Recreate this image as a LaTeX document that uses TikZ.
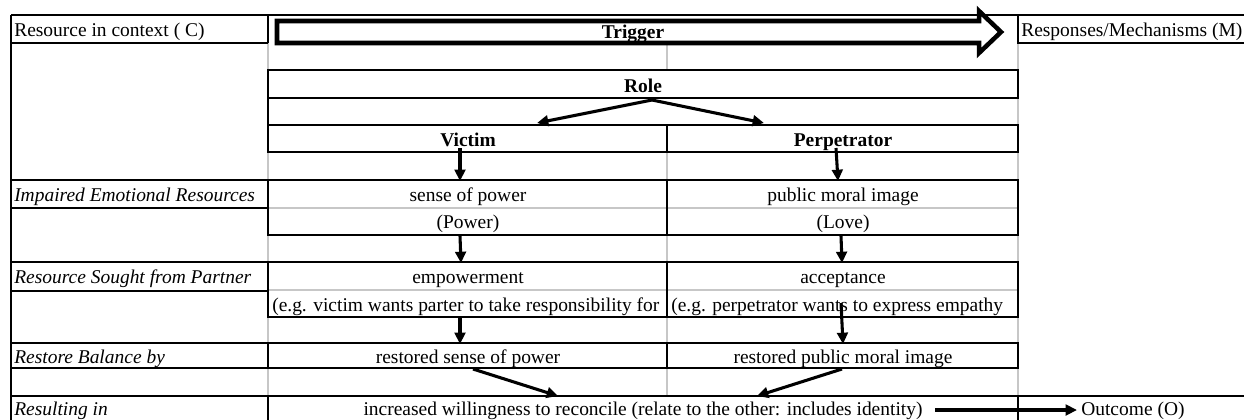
\documentclass[tikz,border=0pt]{standalone}
\usepackage{fontspec}
\setmainfont{Liberation Serif}
\usetikzlibrary{arrows.meta}
\newcommand{\cellfont}{\fontsize{14.6}{17.5}\selectfont}
\begin{document}
\begin{tikzpicture}[x=0.75pt,y=-0.75pt,
  font=\cellfont,
  grid/.style={draw=black!22, line width=0.8pt},
  rule/.style={draw=black, line width=1.4pt},
  flow/.style={line width=2.3pt, -{Triangle[length=8.5pt,width=8pt]}},
  blockarrow/.style={draw=black, fill=white, line width=3.4pt, line join=miter},
  lbl/.style={inner sep=0pt, anchor=base west, font=\cellfont\itshape},
  txt/.style={inner sep=0pt, anchor=base},
  plain/.style={inner sep=0pt, anchor=base west},
  hdr/.style={inner sep=0pt, anchor=base, font=\cellfont\bfseries}]
\useasboundingbox (0,0) rectangle (1244,419);

% light cell grid
\draw[grid] (268,43) -- (268,396);
\draw[grid] (1018,43) -- (1018,396);
\draw[grid] (667,43) -- (667,70);
\draw[grid] (667,152) -- (667,396);
\draw[grid] (268,208) -- (1018,208);
\draw[grid] (268,290) -- (1018,290);

% top border
\draw[rule] (11,15) -- (1244,15);

% left column: context labels
\draw[rule] (11,15) -- (11,425);
\draw[rule] (268,15) -- (268,43);
\draw[rule] (268,70) -- (268,125);
\foreach \yy in {43,180,208,262,291,343,368}
  \draw[rule] (11,\yy) -- (268,\yy);
\draw[rule] (268,180) -- (268,235);
\draw[rule] (268,262) -- (268,317);
\draw[rule] (268,343) -- (268,368);

% right column header
\draw[rule] (1018,15) -- (1018,43) -- (1250,43);

% middle column cells
\draw[rule] (268,70) rectangle (1018,98);
\draw[rule] (268,125) -- (1018,125);
\draw[rule] (268,125) rectangle (667,152);
\draw[rule] (667,125) rectangle (1018,152);
\draw[rule] (268,180) rectangle (667,235);
\draw[rule] (667,180) rectangle (1018,235);
\draw[rule] (268,262) rectangle (667,317);
\draw[rule] (667,262) rectangle (1018,317);
\draw[rule] (268,343) rectangle (667,368);
\draw[rule] (667,343) rectangle (1018,368);

% bottom row
\draw[rule] (11,396) -- (1244,396);
\draw[rule] (268,396) -- (268,425);
\draw[rule] (1018,396) -- (1018,425);

% trigger block arrow
\draw[blockarrow] (277,21) -- (979,21) -- (979,11) -- (1001,32)
  -- (979,53) -- (979,43) -- (277,43) -- cycle;

% texts
\node[plain] (ctx) at (14,36.5) {Resource in context ( C)};
\node[hdr] (trigger) at (633,38) {Trigger};
\node[plain] (mech) at (1021,36.5) {Responses/Mechanisms (M)};
\node[hdr] (role) at (643,92) {Role};
\node[hdr] (victim) at (468,146) {Victim};
\node[hdr] (perp) at (843,146) {Perpetrator};

\node[lbl] (impaired) at (14,201) {Impaired Emotional Resources};
\node[txt] (vpow) at (468,201) {sense of power};
\node[txt] (vpowb) at (468,228) {(Power)};
\node[txt] (pimg) at (843,201) {public moral image};
\node[txt] (pimgb) at (843,228) {(Love)};

\node[lbl] (sought) at (14,283) {Resource Sought from Partner};
\node[txt] (vemp) at (468,283) {empowerment};
\node[plain] (vex) at (272,311) {(e.g. victim wants parter to take responsibility for};
\node[txt] (pacc) at (843,283) {acceptance};
\node[plain] (pex) at (671,311) {(e.g. perpetrator wants to express empathy};

\node[lbl] (restore) at (14,363) {Restore Balance by};
\node[txt] (vres) at (468,363) {restored sense of power};
\node[txt] (pres) at (843,363) {restored public moral image};

\node[lbl] (result) at (14,415) {Resulting in};
\node[txt] (recon) at (643,415) {increased willingness to reconcile (relate to the other: includes identity)};
\node[plain] (outcome) at (1081,415) {Outcome (O)};

% connector end points
\coordinate (rs) at (652,100);
\coordinate (rv) at (537,123);
\coordinate (rp) at (764,123);
\coordinate (v1s) at (460,148);  \coordinate (v1e) at (460,181);
\coordinate (v2s) at (460,236);  \coordinate (v2e) at (461,263);
\coordinate (v3s) at (460,318);  \coordinate (v3e) at (460,344);
\coordinate (p1s) at (836,148);  \coordinate (p1e) at (838,181);
\coordinate (p2s) at (841,236);  \coordinate (p2e) at (842,263);
\coordinate (p3s) at (841,303);  \coordinate (p3e) at (843,344);
\coordinate (vbs) at (473,369);  \coordinate (vbe) at (558,396);
\coordinate (pbs) at (842,369);  \coordinate (pbe) at (757,396);
\coordinate (os) at (935,410);   \coordinate (oe) at (1077,410);

% connectors
\draw[flow] (rs) -- (rv);
\draw[flow] (rs) -- (rp);
\draw[flow] (v1s) -- (v1e);
\draw[flow] (v2s) -- (v2e);
\draw[flow] (v3s) -- (v3e);
\draw[flow] (p1s) -- (p1e);
\draw[flow] (p2s) -- (p2e);
\draw[flow] (p3s) -- (p3e);
\draw[flow] (vbs) -- (vbe);
\draw[flow] (pbs) -- (pbe);
\draw[flow] (os) -- (oe);
\end{tikzpicture}
\end{document}
